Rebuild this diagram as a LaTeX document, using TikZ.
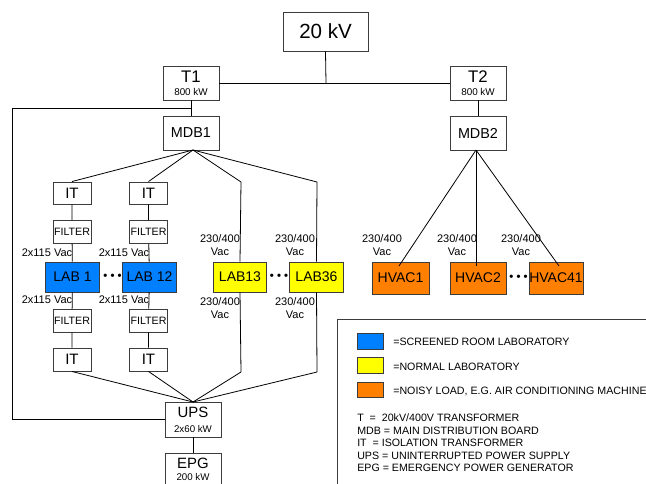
\documentclass[tikz,border=0pt]{standalone}
\usepackage{fontspec}
\setmainfont{Liberation Sans}
\definecolor{labblue}{RGB}{0,128,255}
\definecolor{labyellow}{RGB}{255,255,0}
\definecolor{laborange}{RGB}{255,128,0}
\definecolor{edge}{RGB}{60,60,60}
\begin{document}
\begin{tikzpicture}[x=0.75pt,y=-0.75pt,
  box/.style={draw=edge, line width=0.7pt, fill=white, inner sep=0pt, align=center},
  wire/.style={line width=0.6pt, black},
  small/.style={font=\fontsize{8.25pt}{9.4pt}\selectfont, inner sep=0pt, align=center},
  big/.style={box, minimum width=42pt, minimum height=25.5pt},
  itbox/.style={box, minimum width=28.5pt, minimum height=16.5pt, font=\fontsize{11.3pt}{12pt}\selectfont},
  filt/.style={box, minimum width=28.5pt, minimum height=16.8pt, font=\fontsize{8pt}{9pt}\selectfont},
  lab/.style={box, minimum width=40pt, minimum height=22.5pt, font=\fontsize{10.5pt}{12pt}\selectfont},
  dots/.style={font=\fontsize{8.5pt}{9pt}\selectfont\bfseries, inner sep=0pt},
  legtext/.style={font=\fontsize{8pt}{9.4pt}\selectfont, inner sep=0pt, anchor=west}
]
\useasboundingbox (0,0) rectangle (646,483);
\clip (0,0) rectangle (646,483);
\fill[white] (0,0) rectangle (646,483);

% top level
\node[box, minimum width=63.75pt, minimum height=29.25pt, font=\fontsize{15.4pt}{17pt}\selectfont] (kv) at (325.5,31.5) {20 kV};
\node[big] (t1) at (191,83) {{\fontsize{12.6pt}{12pt}\selectfont T1}\\[-2pt]{\fontsize{7.4pt}{8pt}\selectfont 800 kW}};
\node[big] (t2) at (478,83) {{\fontsize{12.6pt}{12pt}\selectfont T2}\\[-2pt]{\fontsize{7.4pt}{8pt}\selectfont 800 kW}};
\node[big, font=\fontsize{10.8pt}{12pt}\selectfont] (mdb1) at (191,133) {MDB1};
\node[big, font=\fontsize{10.8pt}{12pt}\selectfont] (mdb2) at (478,133) {MDB2};
\coordinate (kvj) at (326,83);
\draw[wire] (kv.south) -- (kvj);
\draw[wire] (t1.east) -- (t2.west);
\draw[wire] (t1.south) -- (mdb1.north);
\draw[wire] (t2.south) -- (mdb2.north);

% screened labs branch
\node[itbox] (it1) at (72,193) {IT};
\node[itbox] (it2) at (148.5,193) {IT};
\node[filt] (f1) at (72,232) {FILTER};
\node[filt] (f2) at (148.5,232) {FILTER};
\node[lab, fill=labblue] (lab1) at (72.5,277) {LAB 1};
\node[lab, fill=labblue] (lab12) at (149.5,277) {LAB 12};
\node[lab, fill=labyellow] (lab13) at (240,277) {LAB13};
\node[lab, fill=labyellow] (lab36) at (316.5,277) {LAB36};
\node[filt, minimum height=17.25pt] (f3) at (72,320.5) {FILTER};
\node[filt, minimum height=17.25pt] (f4) at (148.5,320.5) {FILTER};
\node[itbox, minimum height=17.25pt] (it3) at (72,359.5) {IT};
\node[itbox, minimum height=17.25pt] (it4) at (148.5,359.5) {IT};

\node[big, minimum height=26.25pt] (ups) at (193,419.5) {{\fontsize{11.2pt}{12pt}\selectfont UPS}\\[-1pt]{\fontsize{7.3pt}{8pt}\selectfont 2x60 kW}};
\node[big, minimum height=24pt, anchor=north] (epg) at (193,453) {{\fontsize{11.2pt}{12pt}\selectfont EPG}\\[-3.5pt]{\fontsize{7.3pt}{8pt}\selectfont 200 kW}};

\coordinate (mdbs) at (193,150);
\coordinate (c13) at (241,182);
\coordinate (c36) at (317,182);
\coordinate (d13) at (241,372);
\coordinate (d36) at (317,372);
\coordinate (upsn) at (193,402);
\coordinate (tl) at (191,108);
\coordinate (tlc) at (12,108);
\coordinate (blc) at (12,419.5);

\draw[wire] (mdbs) -- (it1.north);
\draw[wire] (mdbs) -- (it2.north);
\draw[wire] (mdbs) -- (c13) -- (lab13.north);
\draw[wire] (mdbs) -- (c36) -- (lab36.north);
\draw[wire] (it1) -- (f1) -- (lab1) -- (f3) -- (it3);
\draw[wire] (it2) -- (f2) -- (lab12) -- (f4) -- (it4);
\draw[wire] (lab13.south) -- (d13);
\draw[wire] (lab36.south) -- (d36);
\draw[wire] (it3.south) -- (upsn);
\draw[wire] (it4.south) -- (upsn);
\draw[wire] (d13) -- (upsn);
\draw[wire] (d36) -- (upsn);
\draw[wire] (tl) -- (tlc) -- (blc) -- (ups.west);
\draw[wire] (ups.south) -- (epg.north);

% labels
\node[small] (v1) at (47,253) {2x115 Vac};
\node[small] (v2) at (124,253) {2x115 Vac};
\node[small] (v3) at (47,300) {2x115 Vac};
\node[small] (v4) at (124,300) {2x115 Vac};
\node[small] (v5) at (220,245) {230/400\\Vac};
\node[small] (v6) at (295,245) {230/400\\Vac};
\node[small] (v7) at (220,308) {230/400\\Vac};
\node[small] (v8) at (295,308) {230/400\\Vac};

\node[dots] (dd1) at (112.5,277) {• • •};
\node[dots] (dd2) at (279,277) {• • •};

% HVAC branch
\node[lab, fill=laborange, minimum width=42.75pt, minimum height=24pt] (h1) at (400.5,278) {HVAC1};
\node[lab, fill=laborange, minimum width=42pt, minimum height=24pt] (h2) at (478,278) {HVAC2};
\node[lab, fill=laborange, minimum width=40.5pt, minimum height=24pt] (h41) at (556,278) {HVAC41};
\coordinate (m2s) at (476,150);
\coordinate (h1n) at (399,266);
\coordinate (h2n) at (476,266);
\coordinate (h41n) at (559,266);
\draw[wire] (m2s) -- (h1n);
\draw[wire] (m2s) -- (h2n);
\draw[wire] (m2s) -- (h41n);
\node[small] (v9) at (382,245) {230/400\\Vac};
\node[small] (v10) at (457,245) {230/400\\Vac};
\node[small] (v11) at (521,245) {230/400\\Vac};
\node[dots] (dd3) at (518.5,278) {• • •};

% legend
\node[draw=edge, line width=0.7pt, minimum width=300pt, minimum height=150pt, anchor=north west, inner sep=0pt] (leg) at (337,319) {};
\node[draw=edge, line width=0.6pt, fill=labblue, minimum width=19.5pt, minimum height=12pt, inner sep=0pt] (s1) at (370,341) {};
\node[draw=edge, line width=0.6pt, fill=labyellow, minimum width=19.5pt, minimum height=12pt, inner sep=0pt] (s2) at (370,365) {};
\node[draw=edge, line width=0.6pt, fill=laborange, minimum width=19.5pt, minimum height=11.25pt, inner sep=0pt] (s3) at (370,389.5) {};
\node[legtext] (l1) at (393,342) {=SCREENED ROOM LABORATORY};
\node[legtext] (l2) at (393,367) {=NORMAL LABORATORY};
\node[legtext] (l3) at (393,391) {=NOISY LOAD, E.G. AIR CONDITIONING MACHINE};
\node[legtext] (d1) at (357,418) {T \ = \ 20kV/400V TRANSFORMER};
\node[legtext] (d2) at (357,430.5) {MDB = MAIN DISTRIBUTION BOARD};
\node[legtext] (d3) at (357,443) {IT \ = ISOLATION TRANSFORMER};
\node[legtext] (d4) at (357,455.5) {UPS = UNINTERRUPTED POWER SUPPLY};
\node[legtext] (d5) at (357,468) {EPG = EMERGENCY POWER GENERATOR};
\end{tikzpicture}
\end{document}
